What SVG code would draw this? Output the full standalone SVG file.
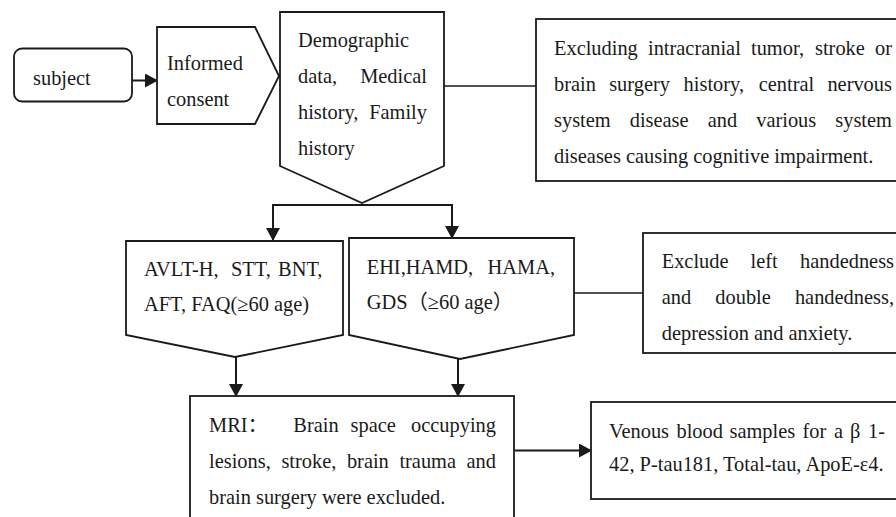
<svg xmlns="http://www.w3.org/2000/svg" width="896" height="517" viewBox="0 0 896 517">
<defs>
<style>
.box{fill:#ffffff;stroke:#1a1a1a;stroke-width:1.8}
.ln{fill:none;stroke:#1a1a1a;stroke-width:2}
.thin{fill:none;stroke:#1a1a1a;stroke-width:1.6}
.t{font-family:"Liberation Serif","Times New Roman","Noto Sans CJK SC",serif;font-size:20.4px;fill:#1a1a1a}
</style>
<marker id="arr" markerUnits="userSpaceOnUse" markerWidth="13" markerHeight="14" refX="12" refY="7" orient="auto">
<path d="M0,0 L13,7 L0,14 Z" fill="#1a1a1a"/>
</marker>
</defs>
<rect width="896" height="517" fill="#ffffff"/>

<g id="connectors">
<path class="ln" d="M132,80.5 H157" marker-end="url(#arr)"/>
<path class="ln" d="M362,205 H273 V240" marker-end="url(#arr)"/>
<path class="ln" d="M362,205 H452 V238" marker-end="url(#arr)"/>
<path class="ln" d="M236,357 V396" marker-end="url(#arr)"/>
<path class="ln" d="M458,359 V396" marker-end="url(#arr)"/>
<path class="ln" d="M514,450.5 H591" marker-end="url(#arr)"/>
<path class="thin" d="M444,86 H536"/>
<path class="thin" d="M574,293 H643"/>
</g>

<g id="subject">
<rect class="box" x="14" y="48.5" width="118" height="53" rx="8" ry="8"/>
<text class="t" x="33" y="85">subject</text>
</g>

<g id="consent">
<polygon class="box" points="157,27 255,27 279,76 255,124 157,124"/>
<text class="t" x="167" y="70">Informed</text>
<text class="t" x="167" y="105.5">consent</text>
</g>

<g id="demographic">
<polygon class="box" points="280,12 444,12 444,166 362,203 280,166"/>
<text class="t" x="298" y="47">Demographic</text>
<text class="t" y="83"><tspan x="298">data,</tspan><tspan x="360.2">Medical</tspan></text>
<text class="t" y="119"><tspan x="298">history,</tspan><tspan x="369.2">Family</tspan></text>
<text class="t" x="298" y="154.5">history</text>
</g>

<g id="exclusion1">
<rect class="box" x="536" y="19" width="370" height="162"/>
<text class="t" y="55"><tspan x="554">Excluding</tspan><tspan x="648">intracranial</tspan><tspan x="751">tumor,</tspan><tspan x="815">stroke</tspan><tspan x="875">or</tspan></text>
<text class="t" y="91"><tspan x="554">brain</tspan><tspan x="609.2">surgery</tspan><tspan x="683.6">history,</tspan><tspan x="758.7">central</tspan><tspan x="827.4">nervous</tspan></text>
<text class="t" y="127"><tspan x="554">system</tspan><tspan x="629.7">disease</tspan><tspan x="707.7">and</tspan><tspan x="756.2">various</tspan><tspan x="835.3">system</tspan></text>
<text class="t" x="554" y="163">diseases causing cognitive impairment.</text>
</g>

<g id="cognitive">
<polygon class="box" points="126,241 343,241 343,335 235,357 126,335"/>
<text class="t" y="276"><tspan x="144">AVLT-H,</tspan><tspan x="230.9">STT,</tspan><tspan x="278.1">BNT,</tspan></text>
<text class="t" x="144" y="311">AFT, FAQ(≥60 age)</text>
</g>

<g id="scales">
<polygon class="box" points="349,238 574,238 574,335 460,359 349,335"/>
<text class="t" y="273.5"><tspan x="366.7">EHI,HAMD,</tspan><tspan x="487.6">HAMA,</tspan></text>
<text class="t" x="366.7" y="308.5">GDS（≥60 age）</text>
</g>

<g id="exclusion2">
<rect class="box" x="643" y="233" width="263" height="120"/>
<text class="t" y="267.5"><tspan x="661.7">Exclude</tspan><tspan x="750.6">left</tspan><tspan x="800">handedness</tspan></text>
<text class="t" y="303.5"><tspan x="661.7">and</tspan><tspan x="715.3">double</tspan><tspan x="794.9">handedness,</tspan></text>
<text class="t" x="661.7" y="339.5">depression and anxiety.</text>
</g>

<g id="mri">
<rect class="box" x="190" y="396" width="324" height="130"/>
<text class="t" y="431.5"><tspan x="209">MRI：</tspan><tspan x="293.3">Brain</tspan><tspan x="350.5">space</tspan><tspan x="411">occupying</tspan></text>
<text class="t" y="467.5"><tspan x="209">lesions,</tspan><tspan x="281.4">stroke,</tspan><tspan x="346.9">brain</tspan><tspan x="399.4">trauma</tspan><tspan x="466.5">and</tspan></text>
<text class="t" x="209" y="503.5">brain surgery were excluded.</text>
</g>

<g id="blood">
<rect class="box" x="591" y="402" width="315" height="97"/>
<text class="t" y="438"><tspan x="609">Venous</tspan><tspan x="676.5">blood</tspan><tspan x="729.5">samples</tspan><tspan x="802.5">for</tspan><tspan x="834">a</tspan><tspan x="850">β</tspan><tspan x="868">1-</tspan></text>
<text class="t" x="609" y="471">42, P-tau181, Total-tau, ApoE-ε4.</text>
</g>
</svg>
